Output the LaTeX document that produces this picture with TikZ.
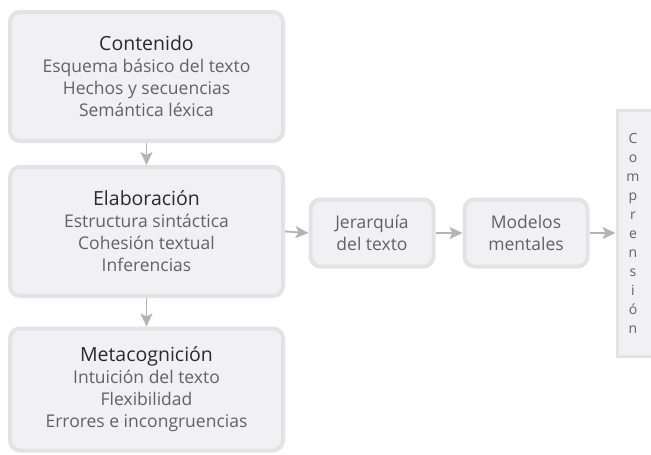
\documentclass[tikz,border=0pt]{standalone}
\usepackage{fontspec}
\setmainfont{Open Sans}
\usetikzlibrary{arrows.meta}

\definecolor{cajafondo}{HTML}{F1F1F3}
\definecolor{cajaborde}{HTML}{E3E3E6}
\definecolor{flecha}{HTML}{B4B4B8}
\definecolor{texto}{HTML}{626262}
\definecolor{titulo}{HTML}{2A2A2A}

\begin{document}
\begin{tikzpicture}[x=1pt,y=-1pt,
    caja/.style={draw=cajaborde, fill=cajafondo, line width=4pt, rounded corners=10pt,
        align=center, text=texto, font=\fontsize{17.5}{22}\selectfont, inner sep=0pt},
    grande/.style={caja, minimum width=273pt},
    chica/.style={caja, minimum width=123pt, minimum height=67pt},
    flechita/.style={draw=flecha, line width=1.8pt, -{Stealth[length=13pt, width=12pt, inset=3pt]}}]
    % Marco
    \useasboundingbox (0,0) rectangle (651,455);

    % Columna izquierda
    \node[grande, minimum height=129pt] (contenido) at (146.5,76.5)
        {{\color{titulo}\fontsize{19.5}{22}\selectfont Contenido}\\Esquema básico del texto\\Hechos y secuencias\\Semántica léxica};
    \node[grande, minimum height=129pt] (elaboracion) at (146.5,231.5)
        {{\color{titulo}\fontsize{19.5}{22}\selectfont Elaboración}\\Estructura sintáctica\\Cohesión textual\\Inferencias};
    \node[grande, minimum height=122pt] (metacog) at (146.5,389.5)
        {{\color{titulo}\fontsize{19.5}{22}\selectfont Metacognición}\\Intuición del texto\\Flexibilidad\\Errores e incongruencias};

    % Cajas del medio
    \node[chica] (jerarquia) at (372,233) {Jerarquía\\del texto};
    \node[chica] (modelos) at (526,233) {Modelos\\mentales};

    % Comprensión (cortada a la derecha)
    \node[draw=cajaborde, fill=cajafondo, line width=3pt, minimum width=44pt, minimum height=246pt,
        inner sep=0pt] (comprension) at (639,233) {};
    \node[text=texto, font=\fontsize{14}{19}\selectfont, align=center, inner sep=0pt] (letras) at (633,233)
        {C\\o\\m\\p\\r\\e\\n\\s\\i\\ó\\n};

    % Flechas
    \draw[flechita] (contenido) -- (elaboracion);
    \draw[flechita] (elaboracion) -- (metacog);
    \draw[flechita] (elaboracion.east) -- (jerarquia.west);
    \draw[flechita] (jerarquia) -- (modelos);
    \draw[flechita] (modelos.east) -- (comprension.west);
\end{tikzpicture}
\end{document}
